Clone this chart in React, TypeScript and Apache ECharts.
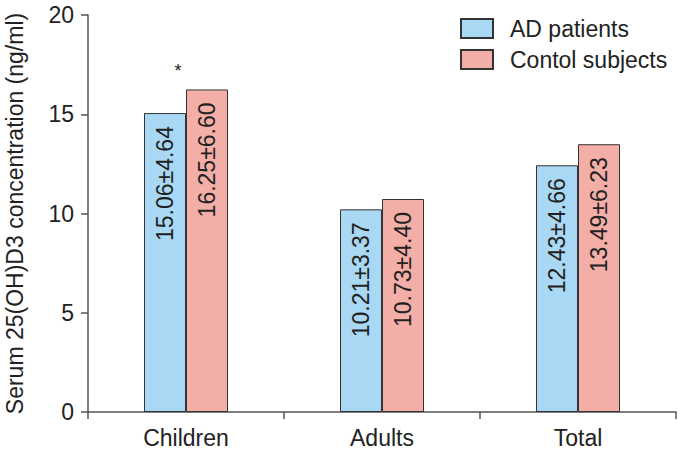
import React, { useEffect, useRef } from "react";
import * as echarts from "echarts";

const categories = ["Children", "Adults", "Total"];
const adMeans = [15.06, 10.21, 12.43];
const adSDs = ["4.64", "3.37", "4.66"];
const ctrlMeans = [16.25, 10.73, 13.49];
const ctrlSDs = ["6.60", "4.40", "6.23"];
const yTicks = { min: 0, max: 20, interval: 5 };
const seriesNames = ["AD patients", "Contol subjects"];
const significance = { category: "Children", value: 17.2, mark: "*" };

const FONT = "Liberation Sans, Arial, sans-serif";
const FS = 23;

export default function App() {
  const ref = useRef<HTMLDivElement>(null);
  useEffect(() => {
    if (!ref.current) return;
    const chart = echarts.init(ref.current, null, { renderer: "svg" });
    const labelFor = (means: number[], sds: string[]) => ({
      show: true,
      position: "insideTop",
      distance: 13,
      rotate: 90,
      align: "right",
      verticalAlign: "middle",
      fontFamily: FONT,
      fontSize: FS,
      color: "#222",
      formatter: (p: any) => `${means[p.dataIndex].toFixed(2)}±${sds[p.dataIndex]}`,
    });
    chart.setOption({
      animation: false,
      textStyle: { fontFamily: FONT },
      grid: { left: 88, right: 8, top: 15, bottom: 41, containLabel: false, outerBoundsMode: "none" },
      legend: {
        left: 455,
        top: 12,
        orient: "vertical",
        itemWidth: 32,
        itemHeight: 19,
        itemGap: 8,
        icon: "rect",
        textStyle: { fontFamily: FONT, fontSize: FS, color: "#222", padding: [0, 0, 0, 12] },
        data: seriesNames,
      },
      xAxis: {
        type: "category",
        data: categories,
        axisLine: { lineStyle: { color: "#555", width: 1.5 } },
        axisTick: { show: true, length: 7, lineStyle: { color: "#555", width: 1.5 } },
        axisLabel: { fontFamily: FONT, fontSize: FS, color: "#222", margin: 14 },
      },
      yAxis: {
        type: "value",
        min: yTicks.min,
        max: yTicks.max,
        interval: yTicks.interval,
        name: "Serum 25(OH)D3 concentration (ng/ml)",
        nameLocation: "middle",
        nameGap: 62,
        nameTextStyle: { fontFamily: FONT, fontSize: FS, color: "#222" },
        splitLine: { show: false },
        axisLine: { show: true, lineStyle: { color: "#555", width: 1.5 } },
        axisTick: { show: true, length: 7, lineStyle: { color: "#555", width: 1.5 } },
        axisLabel: { fontFamily: FONT, fontSize: FS, color: "#222", margin: 14 },
      },
      series: [
        {
          name: seriesNames[0],
          type: "bar",
          data: adMeans,
          barWidth: 42,
          barGap: "0%",
          itemStyle: { color: "#a9d8f4", borderColor: "#333", borderWidth: 1 },
          label: labelFor(adMeans, adSDs),
          markPoint: {
            symbol: "circle",
            symbolSize: 1,
            itemStyle: { color: "rgba(0,0,0,0)" },
            label: {
              show: true,
              formatter: significance.mark,
              position: "inside",
              offset: [13, 0],
              fontSize: 18,
              color: "#222",
              fontFamily: FONT,
            },
            data: [{ coord: [significance.category, significance.value] }],
          },
        },
        {
          name: seriesNames[1],
          type: "bar",
          data: ctrlMeans,
          barWidth: 42,
          itemStyle: { color: "#f4aea8", borderColor: "#333", borderWidth: 1 },
          label: labelFor(ctrlMeans, ctrlSDs),
        },
      ],
    });
    return () => chart.dispose();
  }, []);
  return <div ref={ref} style={{ width: 684, height: 453, position: "absolute", left: 0, top: 0 }} />;
}
